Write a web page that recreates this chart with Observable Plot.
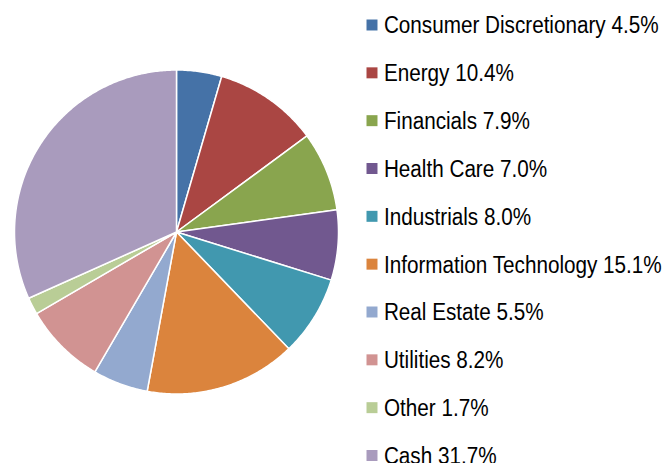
<!DOCTYPE html>
<html>
<head>
<meta charset="utf-8">
<script src="https://cdn.jsdelivr.net/npm/d3@7"></script>
<script src="https://cdn.jsdelivr.net/npm/@observablehq/plot@0.6"></script>
<style>
  html, body { margin: 0; padding: 0; background: #fff; }
  #wrap { position: relative; width: 666px; height: 463px; overflow: hidden; }
  #wrap > div { position: absolute; top: 0; }
  #pie { left: 0; }
  #legend { left: 355px; }
</style>
</head>
<body>
<div id="wrap"><div id="pie"></div><div id="legend"></div></div>
<script>
const categories = ["Consumer Discretionary", "Energy", "Financials", "Health Care", "Industrials",
  "Information Technology", "Real Estate", "Utilities", "Other", "Cash"];
const values = [4.5, 10.4, 7.9, 7.0, 8.0, 15.1, 5.5, 8.2, 1.7, 31.7];
const labels = ["Consumer Discretionary 4.5%", "Energy 10.4%", "Financials 7.9%", "Health Care 7.0%",
  "Industrials 8.0%", "Information Technology 15.1%", "Real Estate 5.5%", "Utilities 8.2%",
  "Other 1.7%", "Cash 31.7%"];
const colors = ["#4572A7", "#AA4643", "#89A54E", "#71588F", "#4198AF", "#DB843D", "#93A9CF",
  "#D19392", "#B9CD96", "#A99BBD"];

const FONT = "'Liberation Sans', Arial, sans-serif";

// Build slice polygons (unit circle) from the values via d3.pie
const arcs = d3.pie().sort(null).value((d) => d.value)(categories.map((c, i) => ({name: c, value: values[i]})));
const pts = [];
for (const a of arcs) {
  const name = a.data.name;
  pts.push({name, x: 0, y: 0});
  const n = Math.max(4, Math.ceil((a.endAngle - a.startAngle) / 0.01));
  for (let k = 0; k <= n; k++) {
    const t = a.startAngle + (a.endAngle - a.startAngle) * k / n;
    pts.push({name, x: Math.sin(t), y: Math.cos(t)});
  }
}

const cx = 176, cy = 231.5, r = 162;
const pie = Plot.plot({
  width: 666, height: 463,
  margin: 0,
  x: {domain: [-1, 1], range: [cx - r, cx + r], axis: null},
  y: {domain: [-1, 1], range: [cy + r, cy - r], axis: null},
  color: {domain: categories, range: colors},
  marks: [
    Plot.line(pts, {x: "x", y: "y", z: "name", fill: "name", stroke: "white", strokeWidth: 1.5,
      curve: "linear-closed", strokeLinejoin: "round"})
  ]
});
document.getElementById("pie").appendChild(pie);

const legend = Plot.plot({
  width: 311, height: 463,
  margin: 0,
  x: {domain: [0, 1], range: [0, 311], axis: null},
  y: {domain: labels, range: [24.5, 455], type: "point", padding: 0, round: false, axis: null},
  color: {domain: categories, range: colors},
  marks: [
    Plot.dot(categories.map((c, i) => ({c, l: labels[i]})), {x: () => 0, y: "l", fill: "c",
      symbol: "square", r: 6.2, dx: 16.5, stroke: "none"}),
    Plot.text(labels, {x: () => 0, y: (d) => d, text: (d) => d, dy: 1, textAnchor: "start",
      fontSize: 23.3, fill: "black", fontFamily: FONT})
  ]
});
// condense the legend labels horizontally (narrow typeface in the reference)
const tg = legend.querySelector('g[aria-label="text"]');
if (tg) {
  const wrapG = document.createElementNS("http://www.w3.org/2000/svg", "g");
  wrapG.setAttribute("transform", "translate(28.5,0) scale(0.888,1)");
  tg.parentNode.insertBefore(wrapG, tg);
  wrapG.appendChild(tg);
}
document.getElementById("legend").appendChild(legend);
</script>
</body>
</html>
